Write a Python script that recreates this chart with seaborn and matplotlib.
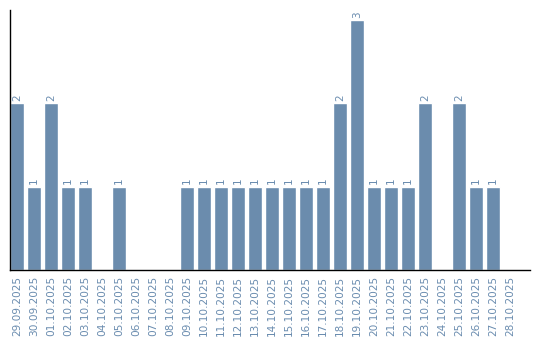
import matplotlib
matplotlib.use("Agg")
import matplotlib.pyplot as plt
import seaborn as sns
import pandas as pd

dates = ["29.09.2025", "30.09.2025", "01.10.2025", "02.10.2025", "03.10.2025",
         "04.10.2025", "05.10.2025", "06.10.2025", "07.10.2025", "08.10.2025",
         "09.10.2025", "10.10.2025", "11.10.2025", "12.10.2025", "13.10.2025",
         "14.10.2025", "15.10.2025", "16.10.2025", "17.10.2025", "18.10.2025",
         "19.10.2025", "20.10.2025", "21.10.2025", "22.10.2025", "23.10.2025",
         "24.10.2025", "25.10.2025", "26.10.2025", "27.10.2025", "28.10.2025"]
counts = [2, 1, 2, 1, 1, 0, 1, 0, 0, 0,
          1, 1, 1, 1, 1, 1, 1, 1, 1, 2,
          3, 1, 1, 1, 2, 0, 2, 1, 1, 0]

df = pd.DataFrame({"date": dates, "count": counts})

sns.set_style("white")
bar_color = "#6b8cad"
text_color = "#6a8caf"

fig = plt.figure(figsize=(5.4, 3.4), dpi=100)
ax = fig.add_axes([10/540, 70/340, 520/540, 260/340])
sns.barplot(data=df, x="date", y="count", color=bar_color, saturation=1,
            width=0.82, ax=ax)

for i, v in enumerate(counts):
    if v > 0:
        ax.text(i, v + 0.03, str(v), rotation=90, ha="center", va="bottom",
                fontsize=7.5, color=text_color)

ax.set_xlim(-0.41, 30.18)
ax.set_ylim(0, 3.12)
ax.set_xlabel("")
ax.set_ylabel("")
ax.set_yticks([])
ax.tick_params(axis="x", length=0, pad=4, labelsize=7.6, labelcolor=text_color)
plt.setp(ax.get_xticklabels(), rotation=90)
for s in ["top", "right"]:
    ax.spines[s].set_visible(False)
for s in ["left", "bottom"]:
    ax.spines[s].set_color("black")
    ax.spines[s].set_linewidth(1)

fig.savefig("out.png", dpi=100)
